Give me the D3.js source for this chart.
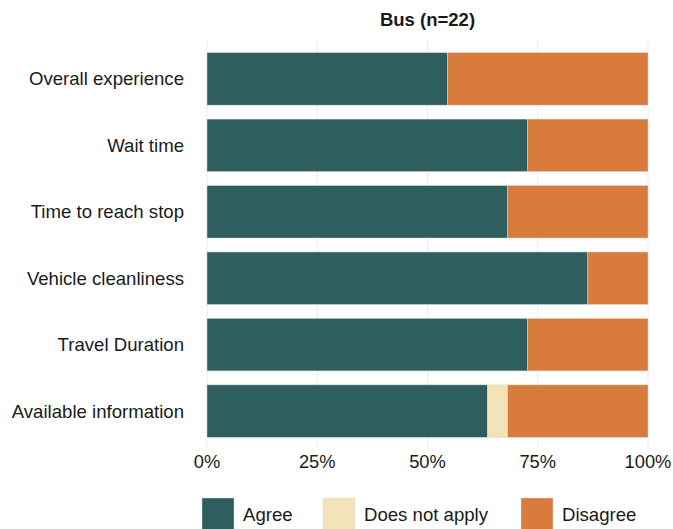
<!DOCTYPE html>
<html>
<head>
<meta charset="utf-8">
<script src="https://d3js.org/d3.v7.min.js"></script>
<style>
  body { margin: 0; background: #fff; }
  text { font-family: "Liberation Sans", Arial, sans-serif; fill: #1a1a1a; }
</style>
</head>
<body>
<svg id="chart" width="673" height="529"></svg>
<script>
var categories = ["Overall experience", "Wait time", "Time to reach stop",
                  "Vehicle cleanliness", "Travel Duration", "Available information"];
var responses = ["Agree", "Does not apply", "Disagree"];
// counts out of 22 respondents
var agree = [12, 16, 15, 19, 16, 14];
var notApply = [0, 0, 0, 0, 0, 1];
var disagree = [10, 6, 7, 3, 6, 7];
var total = 22;
var ticks = [0, 0.25, 0.5, 0.75, 1];
var colors = ["#2e5e5e", "#f2e4b8", "#d97b3c"];

var svg = d3.select("#chart");

var x = d3.scaleLinear().domain([0, 1]).range([207, 648]);
var y = d3.scaleBand().domain(categories).range([46, 444]).paddingInner(0.21).paddingOuter(0.1);

// grid
svg.append("g").selectAll("line")
  .data(ticks).enter().append("line")
  .attr("x1", function(d) { return x(d); })
  .attr("x2", function(d) { return x(d); })
  .attr("y1", 39).attr("y2", 447)
  .attr("stroke", "#ebebeb").attr("stroke-width", 1);

// stack
var rows = categories.map(function(c, i) {
  return { cat: c, "Agree": agree[i] / total, "Does not apply": notApply[i] / total, "Disagree": disagree[i] / total };
});
var series = d3.stack().keys(responses)(rows);

svg.append("g").selectAll("g")
  .data(series).enter().append("g")
  .attr("fill", function(d, i) { return colors[i]; })
  .selectAll("rect")
  .data(function(d) { return d; }).enter().append("rect")
  .filter(function(d) { return d[1] - d[0] > 0; })
  .attr("x", function(d) { return x(d[0]); })
  .attr("width", function(d) { return x(d[1]) - x(d[0]); })
  .attr("y", function(d) { return y(d.data.cat); })
  .attr("height", y.bandwidth())
  .attr("stroke", "#d9d9d9").attr("stroke-width", 0.5);

// y labels
svg.append("g").selectAll("text")
  .data(categories).enter().append("text")
  .attr("x", 184)
  .attr("y", function(d) { return y(d) + y.bandwidth() / 2; })
  .attr("dy", "0.35em")
  .attr("text-anchor", "end")
  .attr("font-size", 18.6)
  .text(function(d) { return d; });

// x axis labels
svg.append("g").selectAll("text")
  .data(ticks).enter().append("text")
  .attr("x", function(d) { return x(d); })
  .attr("y", 468)
  .attr("text-anchor", "middle")
  .attr("font-size", 18.3)
  .text(d3.format(".0%"));

// title
svg.append("text")
  .attr("x", (x(0) + x(1)) / 2)
  .attr("y", 26)
  .attr("text-anchor", "middle")
  .attr("font-size", 18.5)
  .attr("font-weight", "bold")
  .text("Bus (n=22)");

// legend
var legendX = [202, 323, 521];
var lg = svg.append("g").selectAll("g")
  .data(responses).enter().append("g")
  .attr("transform", function(d, i) { return "translate(" + legendX[i] + ",498)"; });
lg.append("rect")
  .attr("width", 32).attr("height", 32)
  .attr("fill", function(d, i) { return colors[i]; })
  .attr("stroke", "#d9d9d9").attr("stroke-width", 0.5);
lg.append("text")
  .attr("x", 41).attr("y", 23)
  .attr("font-size", 18.6)
  .text(function(d) { return d; });
</script>
</body>
</html>
